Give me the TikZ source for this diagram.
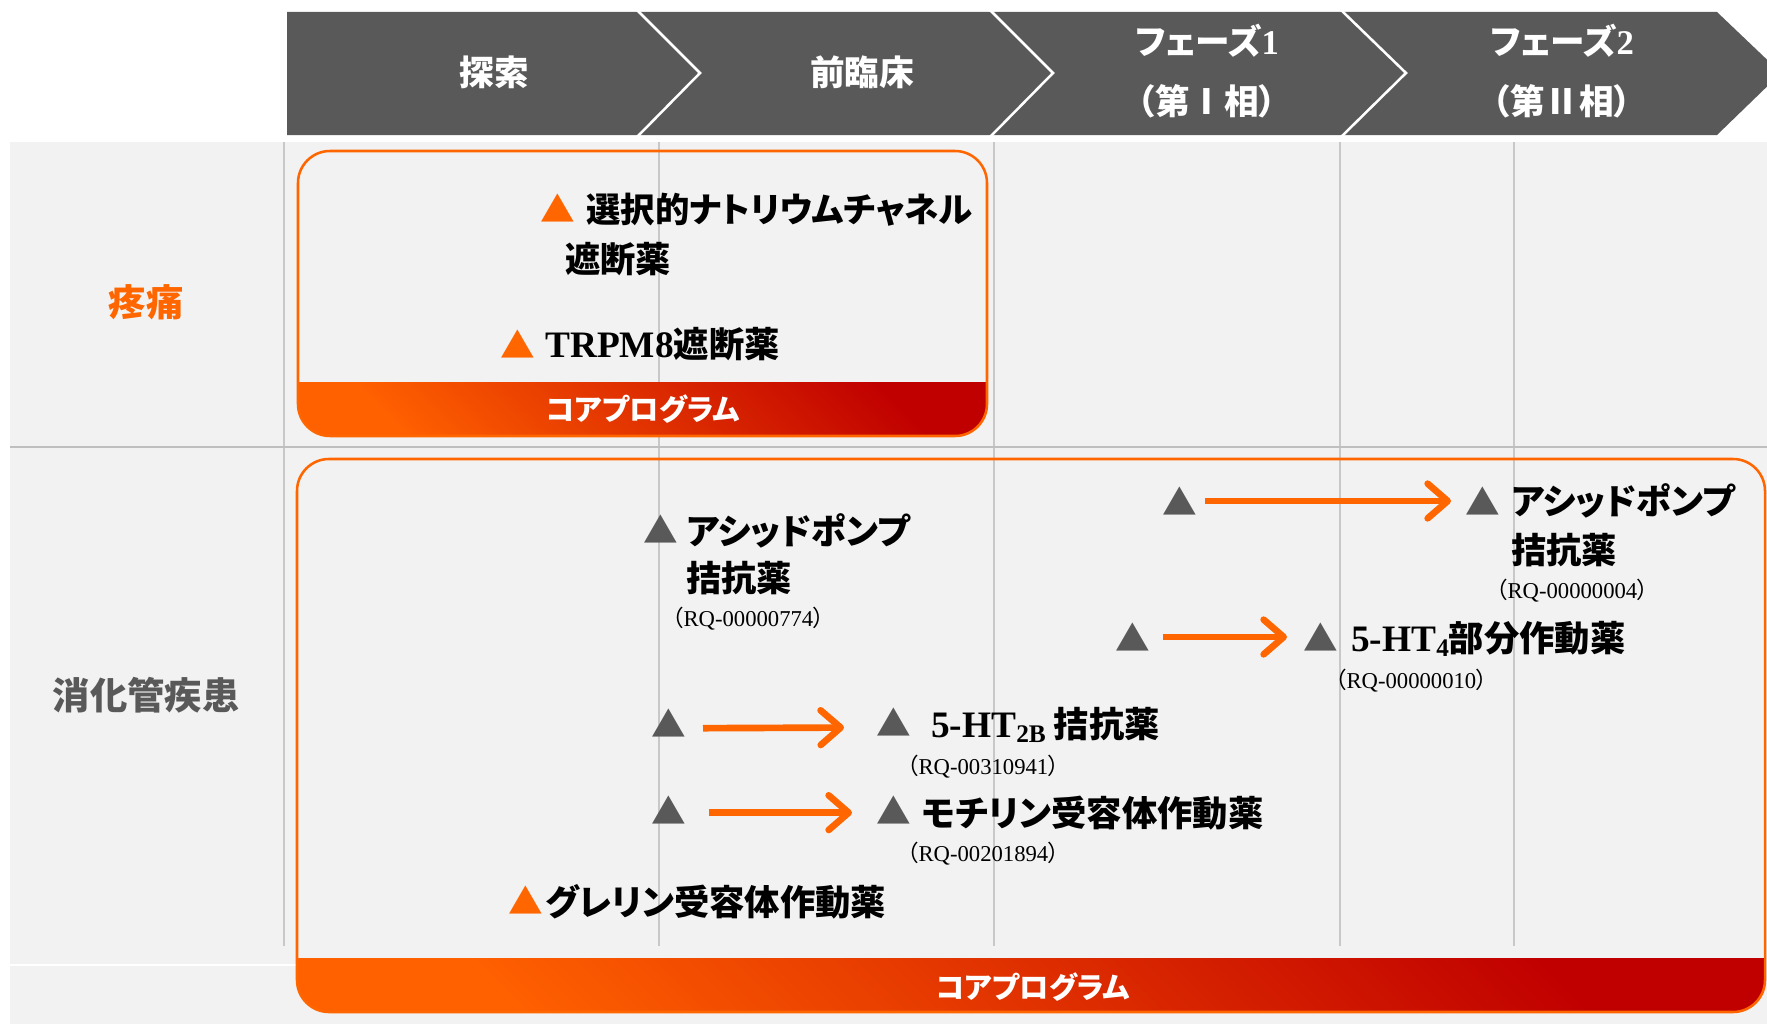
\documentclass[tikz,border=0pt]{standalone}
\usepackage{fontspec}
\newfontfamily\jp[RawFeature=+palt]{Noto Sans CJK JP}
\newfontfamily\lat{Liberation Serif}
\usetikzlibrary{arrows.meta}
\definecolor{dgray}{HTML}{595959}
\definecolor{bgray}{HTML}{F2F2F2}
\definecolor{lgray}{HTML}{C8C8C8}
\definecolor{sgray}{HTML}{BFBFBF}
\definecolor{orng}{HTML}{FF6600}
\definecolor{dred}{HTML}{C00000}
\definecolor{borng}{HTML}{FF6000}
\tikzset{
  htxt/.style={text=white, inner sep=0pt, font=\jp\bfseries\fontsize{26}{45}\selectfont},
  rowlbl/.style={inner sep=0pt, font=\jp\bfseries\fontsize{28}{30}\selectfont},
  item/.style={anchor=west, inner sep=0pt, text=black, font=\jp\bfseries\fontsize{26.5}{30}\selectfont},
  rq/.style={anchor=west, inner sep=0pt, text=black, font=\jp\fontsize{17}{19}\selectfont},
  tri/.style={inner sep=0pt, font=\jp\fontsize{26}{26}\selectfont},
  otri/.style={tri, text=orng},
  gtri/.style={tri, text=dgray},
  core/.style={inner sep=0pt, text=white, font=\jp\bfseries\fontsize{22}{24}\selectfont},
  vline/.style={draw=lgray, line width=1.1pt},
  obox/.style={draw=orng, line width=1.9pt, rounded corners=24pt},
  arr/.style={draw=orng, line width=5pt, -{Straight Barb[length=15pt,width=26pt,round]}},
}
\newcommand{\latbig}[1]{{\lat\fontsize{28}{30}\selectfont #1}}
\begin{document}
\begin{tikzpicture}[x=0.75pt,y=-0.75pt]
\useasboundingbox (0,0) rectangle (1767,1024);
\clip (0,0) rectangle (1767,1024);
% background
\fill[bgray] (10,142) rectangle (1767,1024);
% header
\fill[dgray] (287,12) -- (1717,12) -- (1781,73) -- (1717,135) -- (287,135) -- cycle;
\draw[white, line width=1.9pt] (637,10) -- (700,73) -- (637,137);
\draw[white, line width=1.9pt] (990,10) -- (1053,73) -- (990,137);
\draw[white, line width=1.9pt] (1341,10) -- (1406,73) -- (1341,137);
\node[htxt] (h1) at (494,72) {探索};
\node[htxt] (h2) at (862,72) {前臨床};
\node[htxt, align=center] (h3) at (1207,71) {フェーズ{\lat 1}\\（第Ⅰ相）};
\node[htxt, align=center] (h4) at (1562,71) {フェーズ{\lat 2}\\（第Ⅱ相）};
% grid lines
\draw[vline] (284,142) -- (284,946);
\draw[vline] (659,142) -- (659,946);
\draw[vline] (994,142) -- (994,946);
\draw[vline] (1340,142) -- (1340,946);
\draw[vline] (1514,142) -- (1514,946);
\draw[draw=sgray, line width=2.2pt] (10,447) -- (1767,447);
\draw[draw=white, line width=1.2pt] (10,965) -- (297,965);
% row labels
\node[rowlbl, text=orng] (r1) at (146,302) {疼痛};
\node[rowlbl, text=dgray] (r2) at (146,695) {消化管疾患};
% pain box
\begin{scope}
  \clip[rounded corners=24pt] (298,151) rectangle (987,436);
  \shade[bottom color=borng, top color=dred, shading angle=-45] (298,382) rectangle (987,436);
\end{scope}
\draw[obox] (298,151) rectangle (987,436);
\node[core] (c1) at (643,409) {コアプログラム};
% GI box
\begin{scope}
  \clip[rounded corners=24pt] (297,459) rectangle (1765,1012);
  \shade[bottom color=borng, top color=dred, shading angle=-45] (297,958) rectangle (1765,1012);
\end{scope}
\draw[obox] (297,459) rectangle (1765,1012);
\node[core] (c2) at (1033,987) {コアプログラム};
% pain items
\node[otri] (p1t) at (558,208) {▲};
\node[item, font=\jp\bfseries\fontsize{25.8}{30}\selectfont] (p1) at (586,210) {選択的ナトリウムチャネル};
\node[item] (p1b) at (565,259) {遮断薬};
\node[otri] (p2t) at (518,344) {▲};
\node[item] (p2) at (545,344) {\latbig{TRPM8}遮断薬};
% GI items
\node[gtri] (g1t) at (661,529) {▲};
\node[item] (g1) at (686,531) {アシッドポンプ};
\node[item] (g1b) at (686,578) {拮抗薬};
\node[rq] (g1r) at (672,619) {（{\lat RQ-00000774}）};
\node[gtri] (g3a) at (669,723) {▲};
\node[gtri] (g3b) at (894,722) {▲};
\node[item] (g3) at (931,725) {\latbig{5-HT\raisebox{-0.3ex}{\fontsize{19}{19}\selectfont 2B}} 拮抗薬};
\node[rq] (g3r) at (907,767) {（{\lat RQ-00310941}）};
\node[gtri] (g4a) at (669,810) {▲};
\node[gtri] (g4b) at (894,810) {▲};
\node[item] (g4) at (922,813) {モチリン受容体作動薬};
\node[rq] (g4r) at (907,854) {（{\lat RQ-00201894}）};
\node[otri] (g5t) at (526,900) {▲};
\node[item] (g5) at (545,902) {グレリン受容体作動薬};
\node[gtri] (g6a) at (1180,501) {▲};
\node[gtri] (g6b) at (1483,501) {▲};
\node[item] (g6) at (1511,501) {アシッドポンプ};
\node[item] (g6c) at (1511,550) {拮抗薬};
\node[rq] (g6r) at (1496,591) {（{\lat RQ-00000004}）};
\node[gtri] (g7a) at (1133,637) {▲};
\node[gtri] (g7b) at (1321,637) {▲};
\node[item] (g7) at (1351,639) {\latbig{5-HT\raisebox{-0.3ex}{\fontsize{19}{19}\selectfont 4}}部分作動薬};
\node[rq] (g7r) at (1335,681) {（{\lat RQ-00000010}）};
% arrows
\draw[arr, shorten <=18.75pt, shorten >=24pt] (g6a.center) -- (g6b.center);
\draw[arr, shorten <=22.5pt, shorten >=25.5pt] (g7a.center) -- (g7b.center);
\draw[arr, shorten <=25.5pt, shorten >=37.5pt] ([yshift=-4pt]g3a.center) -- ([yshift=-4pt]g3b.center);
\draw[arr, shorten <=30pt, shorten >=31.5pt] ([yshift=-2pt]g4a.center) -- ([yshift=-2pt]g4b.center);
\end{tikzpicture}
\end{document}
